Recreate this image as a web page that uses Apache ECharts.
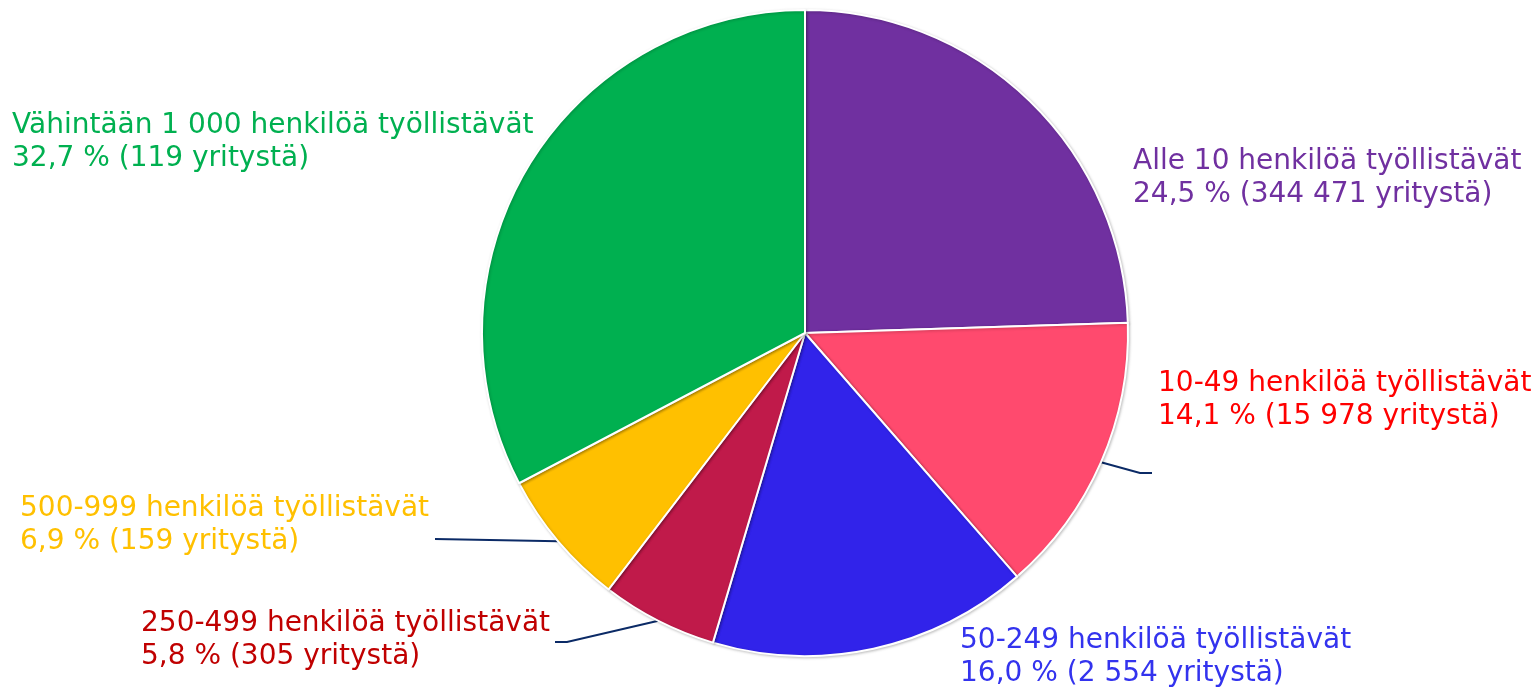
<!DOCTYPE html>
<html><head><meta charset="utf-8">
<script src="https://cdn.jsdelivr.net/npm/echarts@6/dist/echarts.min.js"></script>
<style>html,body{margin:0;padding:0;background:#fff}#c{width:1536px;height:689px}</style>
</head><body><div id="c"></div>
<script>
const categories = ['Alle 10 henkilöä työllistävät','10-49 henkilöä työllistävät','50-249 henkilöä työllistävät','250-499 henkilöä työllistävät','500-999 henkilöä työllistävät','Vähintään 1 000 henkilöä työllistävät'];
const shares = [24.5, 14.1, 16.0, 5.8, 6.9, 32.7];
const companies = [344471, 15978, 2554, 305, 159, 119];

const sliceColors = ['#7030A0','#FF4A6E','#3123EA','#C01A4A','#FFC000','#00B050'];
const labelColors = ['#7030A0','#FF0000','#3333EE','#C00000','#FFC000','#00B050'];
// label anchor (left x, vertical middle y) and leader-line elbows
const labelAnchor = [[1133,178],[1158,400],[960,657],[141,640],[20,525],[12,142]];
const leaderElbows = [null, [[1140,473],[1152,473]], null, [[567,642],[555,642]], [[435,539]], null];

const CX = 805, CY = 333, R = 323;
function fmtNum(n){ return String(n).replace(/\B(?=(\d{3})+(?!\d))/g,' '); }
function fmtPct(v){ return v.toFixed(1).replace('.',','); }

const total = shares.reduce((a,b)=>a+b,0);
const midAngles = [];
{ let acc = 0; shares.forEach(v=>{ midAngles.push((acc + v/2)/total*2*Math.PI); acc += v; }); }

const chart = echarts.init(document.getElementById('c'), null, {renderer:'canvas'});
chart.setOption({
  animation:false,
  series:[{
    type:'pie',
    center:[CX, CY],
    radius:[0, R],
    startAngle:90,
    clockwise:true,
    avoidLabelOverlap:false,
    itemStyle:{borderColor:'#fff', borderWidth:2, shadowBlur:3, shadowColor:'rgba(0,0,0,0.22)', shadowOffsetX:1, shadowOffsetY:1},
    label:{show:true, position:'outside', fontFamily:'DejaVu Sans', fontSize:28, lineHeight:33,
      formatter:p=> p.name + '\n' + fmtPct(shares[p.dataIndex]) + ' % (' + fmtNum(companies[p.dataIndex]) + ' yritystä)'},
    labelLine:{show:true, length:10, length2:10, smooth:false, lineStyle:{color:'#0B2A66', width:2}},
    labelLayout:function(params){
      const i = params.dataIndex;
      const out = {x: labelAnchor[i][0], y: labelAnchor[i][1], align:'left', verticalAlign:'middle'};
      if (leaderElbows[i]) {
        const a = midAngles[i];
        const start = [CX + R*Math.sin(a), CY - R*Math.cos(a)];
        out.labelLinePoints = [start].concat(leaderElbows[i]);
      }
      return out;
    },
    data: categories.map((name,i)=>({
      name, value: shares[i],
      itemStyle:{color:sliceColors[i]},
      label:{color:labelColors[i]},
      labelLine:{show: !!leaderElbows[i]}
    }))
  }]
});
</script>
</body></html>
